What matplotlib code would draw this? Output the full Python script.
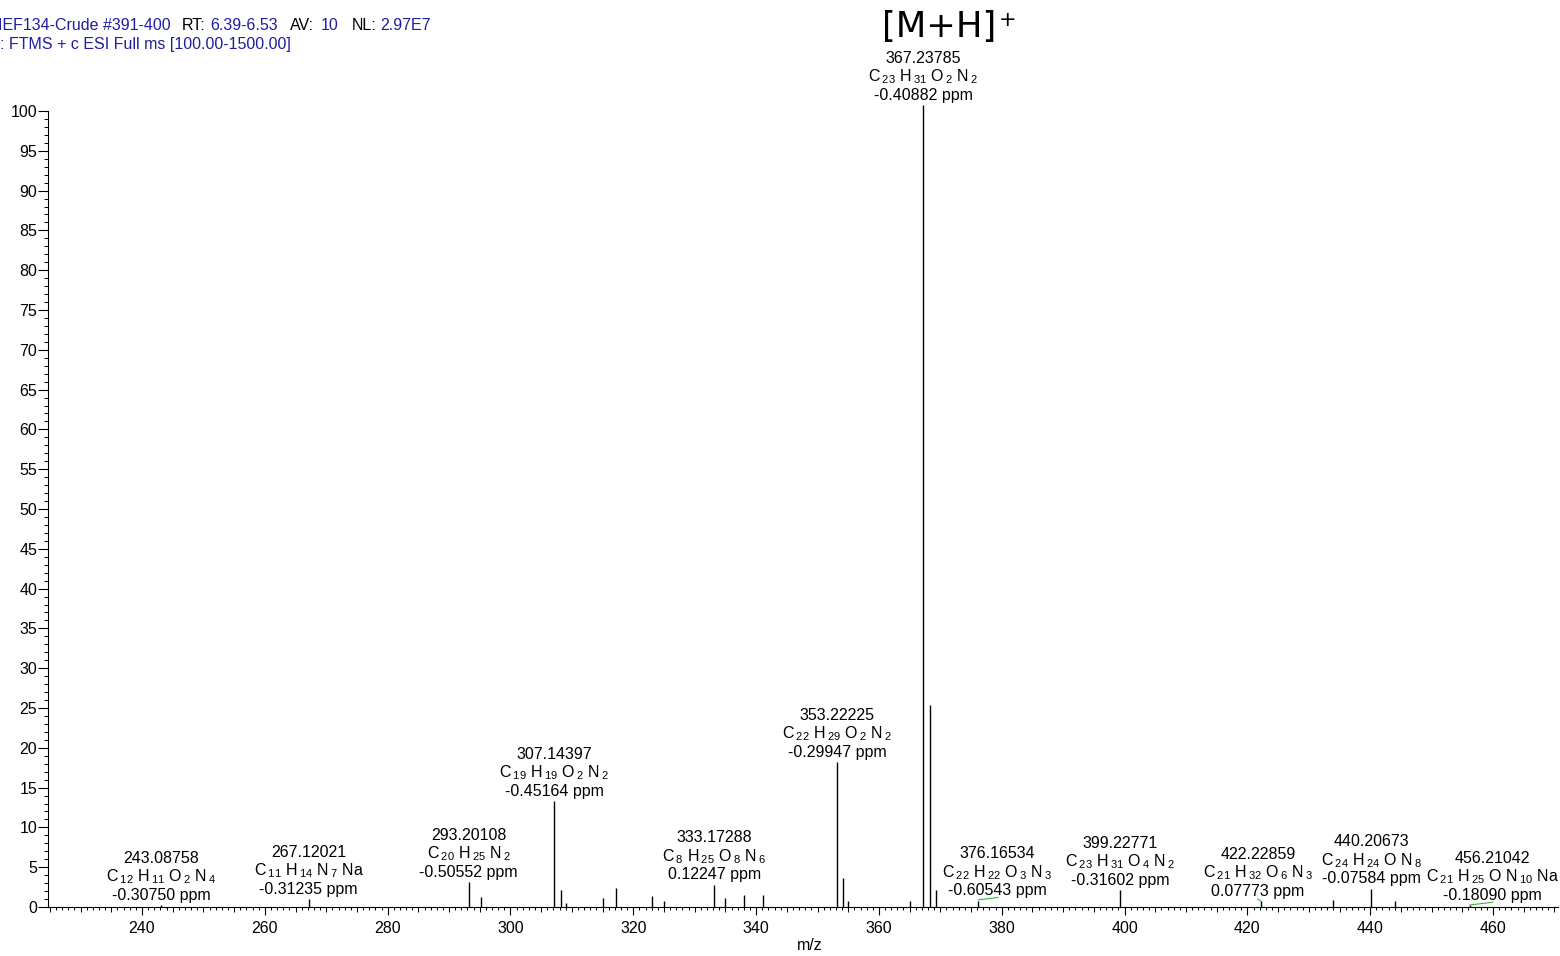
import re
import matplotlib
matplotlib.use('Agg')
import matplotlib.pyplot as plt
from matplotlib.ticker import MultipleLocator, NullFormatter

plt.rcParams['font.family'] = ['Liberation Sans', 'DejaVu Sans']
plt.rcParams['mathtext.fontset'] = 'custom'
plt.rcParams['mathtext.rm'] = 'Liberation Sans'
plt.rcParams['mathtext.it'] = 'Liberation Sans'
plt.rcParams['mathtext.bf'] = 'Liberation Sans:bold'
plt.rcParams['mathtext.default'] = 'regular'

# ---------------- data ----------------
# all sticks of the spectrum (m/z, relative abundance)
peak_mz = [243.09, 267.12, 293.20, 295.20, 307.14, 308.15, 309.05, 315.07,
           317.20, 323.00, 325.00, 333.17, 335.00, 338.00, 341.10, 353.22,
           354.23, 355.00, 365.00, 367.24, 368.24, 369.24, 376.17, 399.23,
           422.23, 433.90, 440.21, 444.00, 456.21]
peak_int = [0.2, 1.0, 3.1, 1.3, 13.3, 2.1, 0.5, 1.1,
            2.4, 1.4, 0.7, 2.8, 1.1, 1.5, 1.5, 18.2,
            3.6, 0.7, 0.7, 100.7, 25.4, 2.1, 0.8, 2.1,
            0.7, 0.9, 2.3, 0.7, 0.2]

# annotated peaks
label_mz = [243.08758, 267.12021, 293.20108, 307.14397, 333.17288, 353.22225,
            367.23785, 376.16534, 399.22771, 422.22859, 440.20673, 456.21042]
label_int = [0.2, 1.0, 3.1, 13.3, 2.8, 18.2, 100.7, 0.8, 2.1, 0.7, 2.3, 0.2]
label_formula = ["C12 H11 O2 N4", "C11 H14 N7 Na", "C20 H25 N2", "C19 H19 O2 N2",
                 "C8 H25 O8 N6", "C22 H29 O2 N2", "C23 H31 O2 N2", "C22 H22 O3 N3",
                 "C23 H31 O4 N2", "C21 H32 O6 N3", "C24 H24 O N8", "C21 H25 O N10 Na"]
label_ppm = ["-0.30750", "-0.31235", "-0.50552", "-0.45164", "0.12247", "-0.29947",
             "-0.40882", "-0.60543", "-0.31602", "0.07773", "-0.07584", "-0.18090"]
label_shift_px = [0, 0, 0, 0, 0, 0, 0, 19, 0, -3, 0, 23]

# small green marks drawn by the software
green_x = [[376.2, 379.4], [421.7, 422.2], [456.2, 460.0]]
green_y = [[0.9, 1.2], [1.0, 0.75], [0.25, 0.6]]

x_limits = (224.69, 470.58)
y_limits = (0, 100)

BLUE = '#1e1ea0'
PX = 0.72  # points per pixel at dpi 100


def formula_tex(f):
    parts = []
    for tok in f.split():
        m = re.match(r'([A-Z][a-z]?)(\d*)$', tok)
        el, n = m.group(1), m.group(2)
        if n:
            parts.append(el + r'$\,_{' + n + '}$')
        else:
            parts.append(el)
    return ' '.join(parts)


fig = plt.figure(figsize=(15.6, 9.56), dpi=100)
W, H = 1560, 956
ax = fig.add_axes([48 / W, 49 / H, 1510 / W, 796 / H])

ax.vlines(peak_mz, 0, peak_int, colors='black', linewidth=1.0, clip_on=False)
for gx, gy in zip(green_x, green_y):
    ax.plot(gx, gy, color='#33bb33', linewidth=0.8)

ax.set_xlim(*x_limits)
ax.set_ylim(*y_limits)

for s in ['top', 'right']:
    ax.spines[s].set_visible(False)
for s in ['left', 'bottom']:
    ax.spines[s].set_linewidth(0.8)

ax.xaxis.set_major_locator(MultipleLocator(20))
ax.xaxis.set_minor_locator(MultipleLocator(1))
ax.yaxis.set_major_locator(MultipleLocator(5))
ax.yaxis.set_minor_locator(MultipleLocator(1))
ax.tick_params(axis='x', which='major', length=8 * PX, width=0.8, pad=6 * PX,
               labelsize=11.5, direction='out')
ax.tick_params(axis='x', which='minor', length=3 * PX, width=0.7, direction='out')
ax.tick_params(axis='y', which='major', length=10 * PX, width=0.8, pad=0.5,
               labelsize=11.5, direction='out')
ax.tick_params(axis='y', which='minor', length=4 * PX, width=0.7, direction='out')

# medium ticks every 5 m/z
sec = ax.secondary_xaxis('bottom')
sec.xaxis.set_major_locator(MultipleLocator(5))
sec.xaxis.set_major_formatter(NullFormatter())
sec.tick_params(axis='x', length=5 * PX, width=0.7, direction='out')
sec.spines['bottom'].set_visible(False)

ax.set_xlabel('m/z', fontsize=11.5)
ax.xaxis.set_label_coords((810 - 48) / 1510, -(946 - 907) / 796)
ax.xaxis.label.set_va('center')

# peak annotations
for mz, h, f, ppm, dx in zip(label_mz, label_int, label_formula, label_ppm, label_shift_px):
    kw = dict(xy=(mz, h), textcoords='offset points', ha='center', va='baseline',
              fontsize=11.5, annotation_clip=False)
    ax.annotate(f'{mz:.5f}', xytext=(dx * PX, 42.5 * PX), **kw)
    ax.annotate(formula_tex(f), xytext=(dx * PX, 23.8 * PX), **kw)
    ax.annotate(f'{ppm} ppm', xytext=(dx * PX, 5.3 * PX), **kw)

# [M+H]+ label over base peak
base_i = label_int.index(max(label_int))
ax.annotate('[M+H]', xy=(label_mz[base_i], label_int[base_i]), xytext=(16 * PX, 68.3 * PX),
            textcoords='offset points', ha='center', va='baseline', fontsize=25.5,
            family='DejaVu Sans', annotation_clip=False)
ax.annotate('+', xy=(label_mz[base_i], label_int[base_i]), xytext=(84.5 * PX, 85 * PX),
            textcoords='offset points', ha='center', va='center', fontsize=15,
            family='DejaVu Sans', annotation_clip=False)

# header
header1 = [("IEF134-Crude #391-400", BLUE, -1.5), ("RT:", 'black', 181.7),
           ("6.39-6.53", BLUE, 210), ("AV:", 'black', 290), ("10", BLUE, 320.7),
           ("NL:", 'black', 351.7), ("2.97E7", BLUE, 380)]
for t, c, xp in header1:
    fig.text(xp / W, 1 - 30 / H, t, color=c, fontsize=11.5, ha='left', va='baseline')
fig.text(0 / W, 1 - 48.5 / H, ": FTMS + c ESI Full ms [100.00-1500.00]", color=BLUE,
         fontsize=11.5, ha='left', va='baseline')

fig.savefig('out.png', dpi=100)
